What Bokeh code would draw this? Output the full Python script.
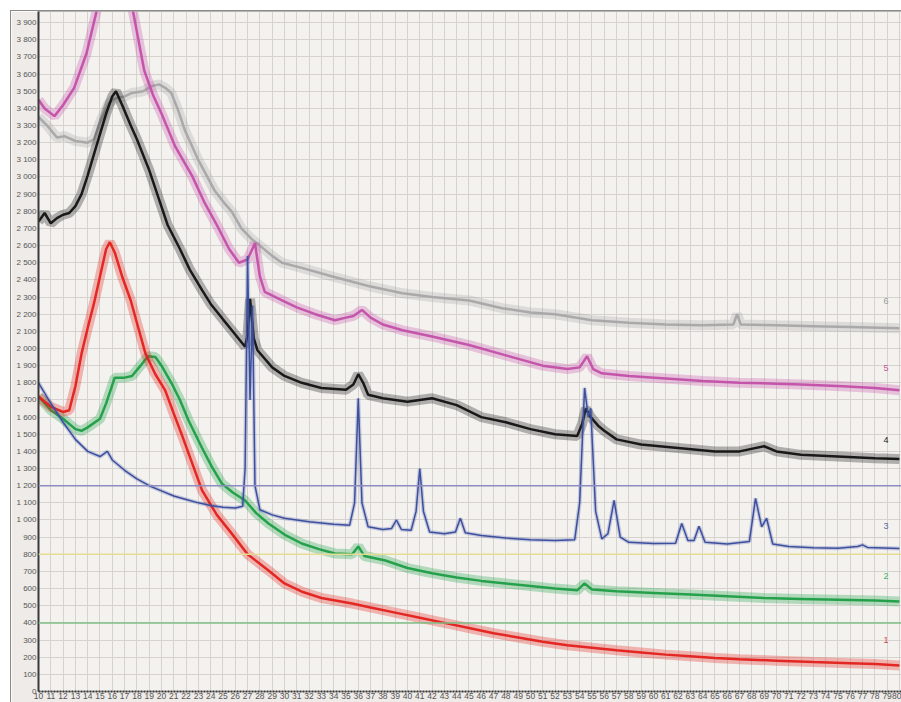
from bokeh.plotting import figure
from bokeh.models import Span, FixedTicker, CustomJSTickFormatter, Range1d
from bokeh.core.properties import value
from bokeh.embed import file_html
from bokeh.resources import INLINE

# ---- data (2-theta, intensity) ----
red_x = [10, 11, 12, 12.5, 13, 13.5, 14, 14.5, 15, 15.5, 15.8, 16.2, 16.8, 17.5, 18, 18.7, 19.5, 20.3, 21, 21.7,
         22.5, 23.3, 24.5, 25.7, 27, 28.7, 30, 31.5, 33, 35.5, 37, 39, 41, 43, 45, 47, 49, 51, 53, 55,
         57, 59, 61, 63, 65, 67, 70, 73, 76, 78, 80]
red_y = [1720, 1660, 1630, 1640, 1780, 1970, 2120, 2260, 2420, 2580, 2620, 2560, 2420, 2280, 2150, 1970, 1850, 1756, 1620, 1488,
         1330, 1173, 1030, 922, 800, 706, 630, 580, 545, 513, 490, 460, 430, 400, 370, 340, 315, 290, 270, 255,
         240, 228, 215, 205, 195, 188, 180, 172, 165, 160, 152]

green_x = [10, 11, 12, 13, 13.5, 14, 15, 15.5, 16.2, 17, 17.6, 18.3, 18.9, 19.5, 20, 20.8, 21.5, 22.2, 23.3, 24.1,
           24.9, 25.8, 26.8, 27.7, 28.7, 30, 31.4, 32.8, 34.1, 35.5, 36, 36.5, 38.2, 40, 42, 44, 46, 48, 50, 52,
           53.8, 54.4, 55, 57, 60, 63, 66, 69, 72, 75, 78, 80]
green_y = [1720, 1640, 1590, 1530, 1520, 1540, 1590, 1680, 1830, 1830, 1840, 1900, 1955, 1950, 1900, 1800, 1700, 1580, 1420, 1310,
           1213, 1160, 1114, 1040, 980, 915, 863, 830, 805, 800, 846, 790, 764, 720, 690, 665, 645, 630, 615, 600,
           590, 630, 595, 585, 575, 565, 555, 545, 540, 535, 530, 525]

blue_x = [10, 11, 12, 13, 14, 15, 15.6, 16, 17, 18, 19, 20, 21, 22, 23, 24, 25, 26, 26.6, 26.8,
          27.0, 27.2, 27.4, 27.6, 28, 29, 30, 32, 34, 35.3, 35.7, 36.0, 36.3, 36.8, 38, 38.7, 39.1, 39.5, 40.3, 40.7,
          41.0, 41.3, 41.8, 43, 43.9, 44.3, 44.7, 46, 48, 50, 52, 53.6, 54.0, 54.4, 54.7, 54.9, 55.3, 55.8, 56.3, 56.8,
          57.3, 58, 60, 61.8, 62.3, 62.8, 63.3, 63.7, 64.2, 66, 67.8, 68.3, 68.8, 69.2, 69.7, 71, 73, 75, 76.6, 77,
          77.4, 80]
blue_y = [1800, 1680, 1570, 1470, 1400, 1370, 1400, 1350, 1290, 1240, 1200, 1170, 1140, 1120, 1100, 1085, 1075, 1070, 1080, 1300,
          2540, 1700, 2250, 1200, 1060, 1030, 1010, 990, 975, 970, 1100, 1710, 1100, 960, 945, 950, 1000, 945, 940, 1050,
          1300, 1050, 930, 920, 930, 1010, 925, 910, 895, 885, 880, 885, 1100, 1770, 1600, 1650, 1050, 890, 920, 1114,
          900, 870, 863, 865, 980, 880, 880, 963, 870, 860, 875, 1126, 960, 1010, 860, 845, 838, 835, 845, 855,
          840, 834]

black_x = [10, 10.5, 11, 11.5, 12, 12.5, 13, 13.5, 14, 14.5, 15, 15.5, 16, 16.3, 16.8, 17.5, 18, 19, 19.8, 20.5,
           21.5, 22.3, 23.3, 24, 25, 25.9, 26.8, 27.0, 27.2, 27.5, 27.8, 29, 30, 31.4, 33, 35, 35.6, 36, 36.4, 36.8,
           38, 40, 42, 44, 46, 48, 50, 52, 53.8, 54.2, 54.5, 54.9, 55.5, 56, 57, 59, 62, 65, 67, 69,
           70, 72, 75, 78, 80]
black_y = [2740, 2790, 2730, 2760, 2780, 2790, 2830, 2900, 3010, 3130, 3250, 3370, 3470, 3500, 3420, 3300, 3220, 3040, 2870, 2720,
           2580, 2460, 2340, 2260, 2170, 2090, 2010, 2080, 2290, 2060, 1990, 1890, 1840, 1800, 1770, 1760, 1790, 1850, 1800, 1730,
           1710, 1690, 1710, 1670, 1600, 1570, 1530, 1500, 1490, 1560, 1650, 1600, 1550, 1520, 1470, 1440, 1420, 1400, 1400, 1430,
           1400, 1380, 1370, 1360, 1355]

magenta_x = [10, 10.5, 11.3, 12, 12.9, 13.9, 14.7, 15.2, 16, 17, 17.7, 18.6, 19.3, 20, 21.1, 22.5, 23.5, 24.5, 25.5, 26.3,
             27.0, 27.6, 28.0, 28.4, 29.8, 31, 32.5, 34.1, 35, 35.6, 36.3, 37, 38, 39.6, 42, 45, 48, 51, 53, 54,
             54.6, 55.1, 55.8, 58, 61, 64, 67, 70, 72, 75.4, 78, 80]
magenta_y = [3450, 3400, 3355, 3420, 3520, 3720, 3960, 4150, 4300, 4200, 3960, 3620, 3480, 3370, 3180, 3005, 2850, 2720, 2580, 2500,
             2520, 2614, 2420, 2330, 2281, 2240, 2200, 2165, 2180, 2190, 2225, 2180, 2140, 2106, 2070, 2020, 1960, 1900, 1880, 1890,
             1955, 1880, 1855, 1840, 1825, 1810, 1800, 1795, 1790, 1780, 1770, 1756]

gray_x = [10, 10.7, 11.5, 12.1, 13, 14, 14.5, 15, 15.7, 16.3, 17, 17.6, 18.5, 19.2, 19.8, 20.3, 20.8, 21.4, 21.9, 23,
          24.3, 25.2, 25.7, 26.5, 27.3, 28, 29, 29.8, 31.4, 33.9, 36.9, 39.6, 42, 45, 47.7, 50, 52, 55, 58, 61,
          64, 66.5, 66.8, 67.1, 70, 73, 76, 80]
gray_y = [3350, 3300, 3230, 3238, 3210, 3200, 3220, 3320, 3430, 3460, 3470, 3490, 3500, 3530, 3540, 3520, 3490, 3380, 3273, 3098,
          2923, 2840, 2800, 2700, 2640, 2600, 2540, 2500, 2470, 2420, 2363, 2322, 2300, 2280, 2235, 2210, 2200, 2165, 2150, 2140,
          2135, 2140, 2200, 2140, 2135, 2130, 2125, 2118]

reference_levels = [400, 800, 1200]
curve_labels = ["1", "2", "3", "4", "5", "6"]
label_x = [78.9, 78.9, 78.9, 78.9, 78.9, 78.9]
label_y = [298, 671, 963, 1464, 1885, 2275]

x_ticks = list(range(10, 81))
y_ticks = list(range(0, 4000, 100))

# ---- figure ----
p = figure(width=891, height=692, output_backend="svg", toolbar_location=None,
           x_range=Range1d(10, 80.25), y_range=Range1d(0, 3965),
           min_border_left=27, min_border_right=0, min_border_top=0, min_border_bottom=12,
           background_fill_color="#f4f2ef", border_fill_color="#eeebe8",
           margin=(10, 0, 0, 10))
p.styles = {"border-left": "1px solid #8a8a8a", "border-top": "1px solid #8a8a8a", "box-sizing": "border-box"}

p.outline_line_color = "#b8b5b2"

p.xaxis.ticker = FixedTicker(ticks=x_ticks)
p.yaxis.ticker = FixedTicker(ticks=y_ticks)
p.xgrid.ticker = FixedTicker(ticks=x_ticks)
p.ygrid.ticker = FixedTicker(ticks=y_ticks)
p.grid.grid_line_color = "#d6d3cf"
p.grid.grid_line_width = 1

p.yaxis.formatter = CustomJSTickFormatter(code="""
const t = Math.round(tick);
if (t >= 1000) { const r = t % 1000; return Math.floor(t / 1000) + ' ' + String(r).padStart(3, '0'); }
return String(t);
""")

for ax in (p.xaxis[0], p.yaxis[0]):
    ax.major_label_text_font = "Liberation Sans"
    ax.major_label_text_font_size = "8px"
    ax.major_label_text_color = "#555555"
    ax.major_tick_out = 0
    ax.major_tick_in = 0
    ax.minor_tick_out = 0
    ax.minor_tick_in = 0
    ax.major_label_standoff = 2
p.xaxis.major_label_text_font_size = "8.5px"
p.yaxis.axis_line_color = "#3a3a3a"
p.yaxis.axis_line_width = 2
p.xaxis.axis_line_color = "#3a3a3a"
p.xaxis.axis_line_width = 2
p.xaxis.axis_line_dash = "2 1"
p.xaxis.major_label_standoff = 1

# reference lines
for lvl, col in zip(reference_levels, ["#7fbf86", "#e6dd95", "#8c8cc0"]):
    p.add_layout(Span(location=lvl, dimension="width", line_color=col, line_width=1.5))

series = [
    (gray_x, gray_y, "#a6a6a6"),
    (magenta_x, magenta_y, "#c24fa8"),
    (black_x, black_y, "#111111"),
    (green_x, green_y, "#1d9e45"),
    (red_x, red_y, "#e3201b"),
]
for xs, ys, col in series:
    p.line(xs, ys, line_color=col, line_width=10, line_alpha=0.3)
    p.line(xs, ys, line_color=col, line_width=2.5, line_alpha=0.95)

p.line(blue_x, blue_y, line_color="#3d4f9f", line_width=4, line_alpha=0.25)
p.line(blue_x, blue_y, line_color="#3d4f9f", line_width=1.5)

p.text(x=label_x, y=label_y, text=curve_labels,
       text_color=["#d24848", "#48b068", "#5a64a8", "#222222", "#c05a9a", "#9a9a9a"],
       text_font=value("Liberation Sans"), text_font_size="9px",
       text_align="center", text_baseline="middle")

open("out.html", "w").write(file_html(p, INLINE))
